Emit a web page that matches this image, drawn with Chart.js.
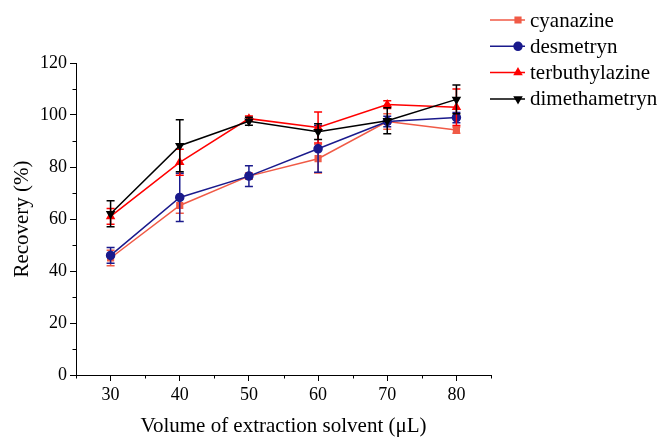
<!DOCTYPE html>
<html>
<head>
<meta charset="utf-8">
<script src="https://cdn.jsdelivr.net/npm/chart.js@4.4.0/dist/chart.umd.min.js"></script>
<style>
    html, body { margin: 0; padding: 0; background: #fff; }
    #wrap { width: 660px; height: 437px; }
</style>
</head>
<body>
<div id="wrap"><canvas id="grafico" width="660" height="437"></canvas></div>
<script>
// dados
const volumes = [30, 40, 50, 60, 70, 80];

const cyanazine      = [45, 65.2, 76.5, 83.2, 97.5, 94.2];
const cyanazineErr   = [3, 3, 1.2, 5.5, 3, 1.2];
const desmetryn      = [46, 68.3, 76.5, 87, 97.5, 99];
const desmetrynErr   = [3, 9.3, 4, 9, 2, 2];
const terbuthylazine = [61, 81.8, 98.6, 95.2, 104, 103];
const terbuthErr     = [3, 5, 1, 6, 1.5, 7];
const dimethametryn  = [62, 88.2, 97.6, 93.6, 97.8, 106];
const dimethErr      = [5, 10, 1.5, 3, 5, 5.5];

const nomes  = ['cyanazine', 'desmetryn', 'terbuthylazine', 'dimethametryn'];
const cores  = ['#F05A46', '#1A1A8C', '#FF0000', '#000000'];
const formas = ['rect', 'circle', 'triangle', 'triangle'];
const rotacoes = [0, 0, 0, 180];
const valores = [cyanazine, desmetryn, terbuthylazine, dimethametryn];
const erros = [cyanazineErr, desmetrynErr, terbuthErr, dimethErr];

const fonte = 'Liberation Serif, Times New Roman, serif';

// barras de erro desenhadas com as escalas do próprio gráfico
const barrasErro = {
    id: 'barrasErro',
    afterDatasetDraw(chart, args) {
        const i = args.index;
        const ctx = chart.ctx;
        const x = chart.scales.x, y = chart.scales.y;
        ctx.save();
        ctx.strokeStyle = cores[i];
        ctx.lineWidth = 1.5;
        valores[i].forEach(function (v, k) {
            const px = x.getPixelForValue(volumes[k]);
            const top = y.getPixelForValue(v + erros[i][k]);
            const bot = y.getPixelForValue(v - erros[i][k]);
            ctx.beginPath();
            ctx.moveTo(px, top); ctx.lineTo(px, bot);
            ctx.moveTo(px - 4, top); ctx.lineTo(px + 4, top);
            ctx.moveTo(px - 4, bot); ctx.lineTo(px + 4, bot);
            ctx.stroke();
        });
        ctx.restore();
    }
};

// ticks menores + legenda
const extras = {
    id: 'extras',
    afterDraw(chart) {
        const ctx = chart.ctx;
        const x = chart.scales.x, y = chart.scales.y;
        const area = chart.chartArea;
        ctx.save();
        ctx.strokeStyle = '#000';
        ctx.lineWidth = 1;
        ctx.beginPath();
        x.ticks.forEach(function (t) {
            if (t.value % 10 !== 0) {
                const px = Math.round(x.getPixelForValue(t.value)) + 0.5;
                ctx.moveTo(px, area.bottom); ctx.lineTo(px, area.bottom + 3.5);
            }
        });
        y.ticks.forEach(function (t) {
            if (t.value % 20 !== 0) {
                const py = Math.round(y.getPixelForValue(t.value)) + 0.5;
                ctx.moveTo(area.left, py); ctx.lineTo(area.left - 3.5, py);
            }
        });
        ctx.stroke();

        // legenda
        ctx.font = '21px ' + fonte;
        ctx.textBaseline = 'middle';
        ctx.textAlign = 'left';
        nomes.forEach(function (nome, i) {
            const ly = 20 + i * 26.3;
            ctx.strokeStyle = cores[i];
            ctx.lineWidth = 1.5;
            ctx.beginPath();
            ctx.moveTo(490, ly); ctx.lineTo(525, ly);
            ctx.stroke();
            ctx.fillStyle = cores[i];
            Chart.helpers.drawPoint(ctx, {
                pointStyle: formas[i], radius: 4, rotation: rotacoes[i], borderWidth: 1
            }, 518, ly);
            ctx.fillStyle = '#000';
            ctx.fillText(nome, 530, ly + 1);
        });
        ctx.restore();
    }
};

const datasets = nomes.map(function (nome, i) {
    return {
        label: nome,
        data: valores[i].map(function (v, k) { return { x: volumes[k], y: v }; }),
        borderColor: cores[i],
        backgroundColor: cores[i],
        borderWidth: 1.5,
        pointStyle: formas[i],
        pointRotation: rotacoes[i],
        pointRadius: 4,
        pointHoverRadius: 4,
        tension: 0,
        order: 4 - i
    };
});

const grafico = new Chart(document.getElementById('grafico').getContext('2d'), {
    type: 'line',
    data: { datasets: datasets },
    plugins: [barrasErro, extras],
    options: {
        responsive: false,
        animation: false,
        layout: { padding: { left: 0, top: 63, right: 169, bottom: 0 } },
        plugins: {
            legend: { display: false },
            tooltip: { enabled: false }
        },
        scales: {
            x: {
                type: 'linear',
                min: 25,
                max: 85,
                afterFit: function (scale) { scale.height = 62; },
                border: { display: true, color: '#000', width: 1 },
                grid: {
                    drawOnChartArea: false,
                    drawTicks: true,
                    tickLength: 6,
                    tickColor: function (c) { return c.tick && c.tick.value % 10 === 0 ? '#000' : 'rgba(0,0,0,0)'; }
                },
                ticks: {
                    stepSize: 5,
                    autoSkip: false,
                    maxRotation: 0,
                    padding: 3,
                    color: '#000',
                    font: { family: fonte, size: 18 },
                    callback: function (v) { return (v % 10 === 0) ? v : ''; }
                },
                title: {
                    display: true,
                    text: 'Volume of extraction solvent (\u03bcL)',
                    color: '#000',
                    font: { family: fonte, size: 21, lineHeight: 1 },
                    padding: { top: 0, bottom: 0 }
                }
            },
            y: {
                min: 0,
                max: 120,
                afterFit: function (scale) { scale.width = 76; },
                border: { display: true, color: '#000', width: 1 },
                grid: {
                    drawOnChartArea: false,
                    drawTicks: true,
                    tickLength: 6,
                    tickColor: function (c) { return c.tick && c.tick.value % 20 === 0 ? '#000' : 'rgba(0,0,0,0)'; }
                },
                ticks: {
                    stepSize: 10,
                    autoSkip: false,
                    padding: 3,
                    color: '#000',
                    font: { family: fonte, size: 18 },
                    callback: function (v) { return (v % 20 === 0) ? v : ''; }
                },
                title: {
                    display: true,
                    text: 'Recovery (%)',
                    color: '#000',
                    font: { family: fonte, size: 21, lineHeight: 1 },
                    padding: { top: 12, bottom: 0 }
                }
            }
        }
    }
});
</script>
</body>
</html>
